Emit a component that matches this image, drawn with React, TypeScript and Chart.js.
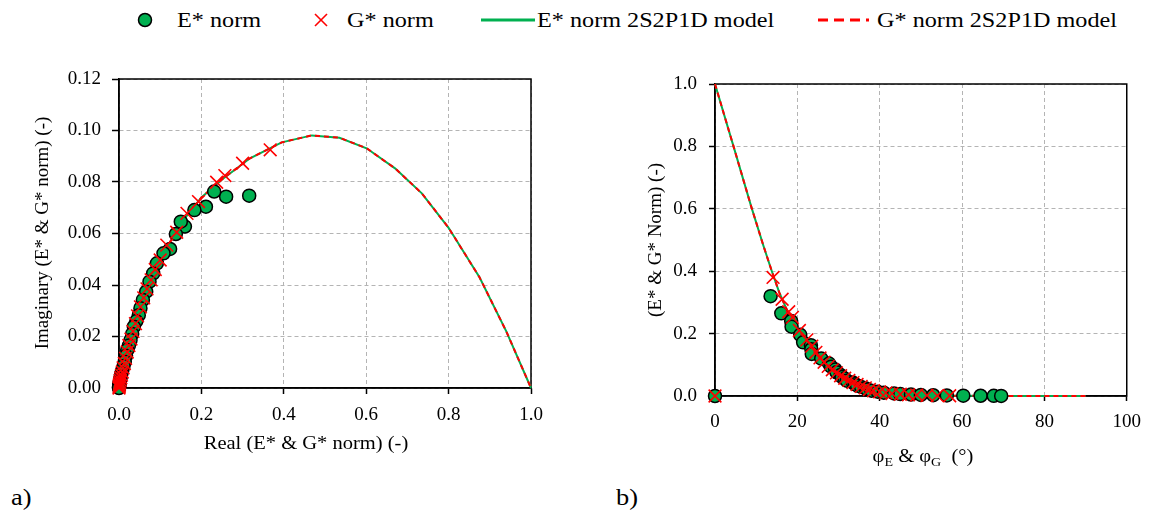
import React, { useEffect, useRef } from "react";
import { Chart, registerables } from "chart.js";

Chart.register(...registerables);

const SERIF = "'Liberation Serif', 'Times New Roman', serif";
const GREEN = "#00B050";
const RED = "#FF0000";
const GRID = "#B4B4B4";

// ---- a) Cole-Cole plane: Real vs Imaginary (normalised) ----
const eReal = [0.316, 0.26, 0.231, 0.211, 0.183, 0.16, 0.15, 0.138, 0.124, 0.108, 0.092, 0.083, 0.074, 0.066, 0.058, 0.052, 0.048, 0.042, 0.036, 0.032, 0.028, 0.024, 0.02, 0.017, 0.014, 0.011, 0.008, 0.006, 0.0045, 0.0032, 0.0022, 0.0015, 0.001, 0.0006, 0.0004, 0.0002, 0.0001, 0];
const eImag = [0.0747, 0.0743, 0.0763, 0.0704, 0.0691, 0.0627, 0.0646, 0.0598, 0.054, 0.0523, 0.0484, 0.0445, 0.0413, 0.0374, 0.0342, 0.031, 0.0283, 0.026, 0.0238, 0.021, 0.0186, 0.0165, 0.0148, 0.0125, 0.0102, 0.0085, 0.0068, 0.0057, 0.0045, 0.0035, 0.0027, 0.002, 0.0015, 0.001, 0.0007, 0.0004, 0.0002, 0];

const gReal = [0.367, 0.3, 0.257, 0.237, 0.193, 0.165, 0.14, 0.116, 0.1, 0.088, 0.078, 0.068, 0.06, 0.052, 0.045, 0.04, 0.034, 0.029, 0.024, 0.02, 0.016, 0.013, 0.01, 0.008, 0.006, 0.0045, 0.003, 0.002, 0.0012, 0.0007, 0.0003, 0];
const gImag = [0.0925, 0.0873, 0.0825, 0.0799, 0.0724, 0.0678, 0.0605, 0.0555, 0.0497, 0.046, 0.042, 0.0385, 0.035, 0.0315, 0.028, 0.025, 0.022, 0.019, 0.0165, 0.014, 0.0115, 0.0095, 0.0078, 0.0062, 0.005, 0.004, 0.003, 0.0022, 0.0015, 0.001, 0.0005, 0];

const modelReal = [0, 0.004, 0.01, 0.02, 0.035, 0.05, 0.07, 0.095, 0.125, 0.16, 0.2, 0.25, 0.318, 0.395, 0.468, 0.535, 0.601, 0.67, 0.735, 0.8, 0.875, 0.94, 1.0];
const modelImag = [0, 0.005, 0.009, 0.015, 0.023, 0.03, 0.039, 0.048, 0.057, 0.066, 0.074, 0.081, 0.0892, 0.0954, 0.0981, 0.0972, 0.0931, 0.0853, 0.0756, 0.0622, 0.043, 0.022, 0];

// ---- b) Black space: phase angle vs norm ----
const ePhase = [13.5, 16.1, 18.5, 18.6, 20.7, 21.4, 23.3, 23.4, 23.5, 25.8, 27.7, 28.2, 29.2, 29.5, 30.5, 30.8, 31.5, 32.0, 33.5, 34.0, 34.5, 35.5, 36.5, 37.0, 38.0, 39.5, 41.0, 43.5, 45.0, 47.6, 50.0, 53.0, 56.3, 60.3, 64.5, 67.7, 69.5, 0];
const eNorm = [0.32, 0.265, 0.24, 0.222, 0.196, 0.172, 0.163, 0.15, 0.135, 0.12, 0.104, 0.094, 0.085, 0.076, 0.067, 0.061, 0.056, 0.049, 0.043, 0.038, 0.034, 0.029, 0.025, 0.021, 0.017, 0.014, 0.0105, 0.0083, 0.0064, 0.0047, 0.0035, 0.0025, 0.0018, 0.0012, 0.0008, 0.0005, 0.0003, 0];

const gPhase = [14.1, 16.3, 17.9, 18.8, 20.5, 22.3, 23.5, 24.5, 25.5, 26.5, 27.5, 28.5, 29.5, 30.5, 31.5, 32.5, 33.5, 34.5, 35.5, 36.5, 37.5, 38.5, 40.0, 41.5, 43.0, 45.0, 47.0, 49.0, 51.5, 54.0, 57.0, 0];
const gNorm = [0.38, 0.31, 0.27, 0.252, 0.21, 0.18, 0.16, 0.14, 0.122, 0.108, 0.095, 0.084, 0.074, 0.065, 0.057, 0.05, 0.043, 0.037, 0.031, 0.026, 0.021, 0.017, 0.013, 0.01, 0.0075, 0.0055, 0.004, 0.003, 0.002, 0.0013, 0.0008, 0];

const modelPhase = [0, 4.5, 8.8, 11.8, 13.8, 15.6, 17.5, 19.5, 21.5, 23.5, 25.5, 27.5, 29.5, 31.5, 33.5, 35.5, 38, 41, 44, 48, 52, 57, 62, 70, 80, 90];
const modelNorm = [1.0, 0.8, 0.607, 0.48, 0.4, 0.332, 0.275, 0.225, 0.18, 0.145, 0.115, 0.09, 0.07, 0.054, 0.041, 0.031, 0.021, 0.013, 0.008, 0.0045, 0.0025, 0.0012, 0.0006, 0.0002, 0.00005, 0];

// ---- text ----
const legendLabels = ["E* norm", "G* norm", "E* norm 2S2P1D model", "G* norm 2S2P1D model"];
const leftXTitle = "Real (E* & G* norm) (-)";
const leftYTitle = "Imaginary (E* & G* norm) (-)";
const rightYTitle = "(E* & G* Norm) (-)";
const panelLabels = ["a)", "b)"];

function pts(xs: number[], ys: number[]) {
  return xs.map((x, i) => ({ x, y: ys[i] }));
}

type Part = { t: string; sub?: boolean };
type TextItem = { x: number; y: number; rotate?: number; size: number; stretch?: number; parts: Part[] };

function textPlugin(items: TextItem[]) {
  return {
    id: "customTexts",
    afterDraw(chart: any) {
      const ctx = chart.ctx as CanvasRenderingContext2D;
      for (const it of items) {
        ctx.save();
        ctx.translate(it.x, it.y);
        if (it.rotate) ctx.rotate(it.rotate);
        ctx.scale(it.stretch || 1, 1);
        ctx.fillStyle = "#000";
        ctx.textBaseline = "middle";
        ctx.textAlign = "left";
        let w = 0;
        const widths = it.parts.map((p) => {
          ctx.font = `${p.sub ? Math.round(it.size * 0.68) : it.size}px ${SERIF}`;
          const m = ctx.measureText(p.t).width;
          w += m;
          return m;
        });
        let x = -w / 2;
        it.parts.forEach((p, i) => {
          ctx.font = `${p.sub ? Math.round(it.size * 0.68) : it.size}px ${SERIF}`;
          ctx.fillText(p.t, x, p.sub ? it.size * 0.3 : 0);
          x += widths[i];
        });
        ctx.restore();
      }
    },
  };
}

const framePlugin = {
  id: "frame",
  beforeDatasetsDraw(chart: any) {
    const { ctx, chartArea: a } = chart;
    ctx.save();
    ctx.strokeStyle = "#000";
    ctx.lineWidth = 1.5;
    ctx.strokeRect(a.left, a.top, a.right - a.left, a.bottom - a.top);
    ctx.restore();
  },
};

function makeScale(min: number, max: number, step: number, decimals: number, size: number, pad: number, tickLen: number, horizontal: boolean) {
  return {
    type: "linear",
    min,
    max,
    ticks: {
      stepSize: step,
      color: "#000",
      font: { family: SERIF, size: 19 },
      padding: pad,
      autoSkip: false,
      maxRotation: 0,
      callback: (v: any) => Number(v).toFixed(decimals),
    },
    grid: {
      color: GRID,
      lineWidth: 1,
      drawTicks: true,
      tickLength: tickLen,
      tickColor: "#000",
      tickWidth: 1.5,
      tickBorderDash: [],
    },
    border: { display: true, color: "#000", width: 1.5, dash: [4, 3] },
    afterFit: (s: any) => {
      if (horizontal) s.height = size;
      else s.width = size;
    },
  };
}

function datasets(eP: any[], gP: any[], mE: any[], mG: any[]) {
  return [
    {
      label: legendLabels[1],
      data: gP,
      pointStyle: "crossRot",
      pointRadius: 9,
      borderColor: RED,
      backgroundColor: RED,
      pointBorderWidth: 1.6,
      showLine: false,
      clip: false,
    },
    {
      label: legendLabels[0],
      data: eP,
      pointStyle: "circle",
      pointRadius: 6.5,
      backgroundColor: GREEN,
      borderColor: "#000",
      pointBorderWidth: 1.5,
      showLine: false,
      clip: false,
    },
    {
      label: legendLabels[3],
      data: mG,
      showLine: true,
      pointRadius: 0,
      borderColor: RED,
      borderWidth: 2,
      borderDash: [5, 4],
      tension: 0,
      clip: false,
    },
    {
      label: legendLabels[2],
      data: mE,
      showLine: true,
      pointRadius: 0,
      borderColor: GREEN,
      borderWidth: 2,
      tension: 0,
      clip: false,
    },
  ];
}

function leftConfig(): any {
  return {
    type: "scatter",
    data: {
      datasets: datasets(pts(eReal, eImag), pts(gReal, gImag), pts(modelReal, modelImag), pts(modelReal, modelImag)),
    },
    options: {
      responsive: false,
      animation: false,
      devicePixelRatio: 1,
      layout: { padding: { top: 39, right: 29, left: 0, bottom: 0 } },
      plugins: { legend: { display: false }, tooltip: { enabled: false }, title: { display: false } },
      scales: {
        x: makeScale(0, 1, 0.2, 1, 92, 10, 6, true),
        y: makeScale(0, 0.12, 0.02, 2, 119, 11, 7, false),
      },
    },
    plugins: [
      framePlugin,
      textPlugin([
        { x: 306, y: 404, size: 19, stretch: 1.08, parts: [{ t: leftXTitle }] },
        { x: 43, y: 193, size: 19, rotate: -Math.PI / 2, parts: [{ t: leftYTitle }] },
      ]),
    ],
  };
}

function rightConfig(): any {
  return {
    type: "scatter",
    data: {
      datasets: datasets(pts(ePhase, eNorm), pts(gPhase, gNorm), pts(modelPhase, modelNorm), pts(modelPhase, modelNorm)),
    },
    options: {
      responsive: false,
      animation: false,
      devicePixelRatio: 1,
      layout: { padding: { top: 44, right: 22, left: 0, bottom: 0 } },
      plugins: { legend: { display: false }, tooltip: { enabled: false }, title: { display: false } },
      scales: {
        x: makeScale(0, 100, 20, 0, 84, 10, 5, true),
        y: makeScale(0, 1, 0.2, 1, 135, 12, 6, false),
      },
    },
    plugins: [
      framePlugin,
      textPlugin([
        {
          x: 343,
          y: 417,
          size: 19,
          stretch: 1.08,
          parts: [{ t: "φ" }, { t: "E", sub: true }, { t: " & φ" }, { t: "G", sub: true }, { t: "  (°)" }],
        },
        { x: 76, y: 200, size: 19, rotate: -Math.PI / 2, parts: [{ t: rightYTitle }] },
      ]),
    ],
  };
}

const legendText: React.CSSProperties = {
  position: "absolute",
  top: 9,
  fontSize: 22,
  lineHeight: "22px",
  whiteSpace: "nowrap",
  transform: "scaleX(1.1)",
  transformOrigin: "left center",
  color: "#000",
};

const panelText: React.CSSProperties = {
  position: "absolute",
  top: 485,
  fontSize: 24,
  lineHeight: "24px",
  transform: "scaleX(1.1)",
  transformOrigin: "left center",
  color: "#000",
};

export default function App() {
  const leftRef = useRef<HTMLCanvasElement>(null);
  const rightRef = useRef<HTMLCanvasElement>(null);

  useEffect(() => {
    const c1 = new Chart(leftRef.current as HTMLCanvasElement, leftConfig());
    const c2 = new Chart(rightRef.current as HTMLCanvasElement, rightConfig());
    return () => {
      c1.destroy();
      c2.destroy();
    };
  }, []);

  return (
    <div style={{ position: "absolute", left: 0, top: 0, width: 1151, height: 517, background: "#fff", fontFamily: SERIF, overflow: "hidden" }}>
      {/* legend */}
      <svg style={{ position: "absolute", left: 0, top: 0 }} width={1151} height={40}>
        <circle cx={145} cy={20} r={6.5} fill={GREEN} stroke="#000" strokeWidth={1.5} />
        <line x1={315} y1={14} x2={327} y2={26} stroke={RED} strokeWidth={1.6} />
        <line x1={315} y1={26} x2={327} y2={14} stroke={RED} strokeWidth={1.6} />
        <line x1={481} y1={20} x2={535} y2={20} stroke={GREEN} strokeWidth={3} />
        <line x1={818} y1={20} x2={869} y2={20} stroke={RED} strokeWidth={3} strokeDasharray="10,6" />
      </svg>
      <div style={{ ...legendText, left: 177 }}>{legendLabels[0]}</div>
      <div style={{ ...legendText, left: 347 }}>{legendLabels[1]}</div>
      <div style={{ ...legendText, left: 537 }}>{legendLabels[2]}</div>
      <div style={{ ...legendText, left: 877 }}>{legendLabels[3]}</div>

      <canvas ref={leftRef} width={560} height={440} style={{ position: "absolute", left: 0, top: 40, width: 560, height: 440 }} />
      <canvas ref={rightRef} width={571} height={440} style={{ position: "absolute", left: 580, top: 40, width: 571, height: 440 }} />

      <div style={{ ...panelText, left: 11 }}>{panelLabels[0]}</div>
      <div style={{ ...panelText, left: 616 }}>{panelLabels[1]}</div>
    </div>
  );
}
